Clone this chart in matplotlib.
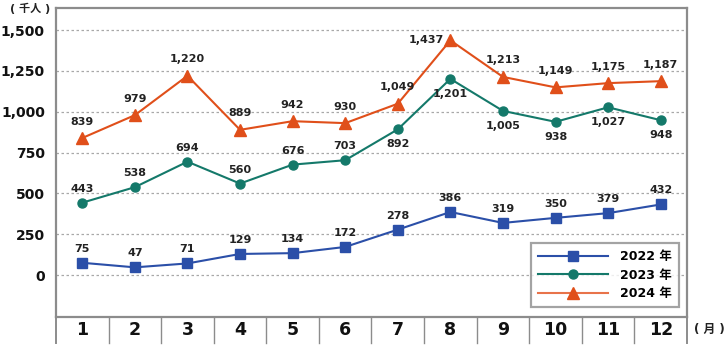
import matplotlib
matplotlib.use("Agg")
import matplotlib.pyplot as plt
from matplotlib.lines import Line2D
import matplotlib.transforms as mtransforms

plt.rcParams['font.family'] = ['DejaVu Sans', 'Noto Sans CJK JP']

months = [1, 2, 3, 4, 5, 6, 7, 8, 9, 10, 11, 12]
v2022 = [75, 47, 71, 129, 134, 172, 278, 386, 319, 350, 379, 432]
v2023 = [443, 538, 694, 560, 676, 703, 892, 1201, 1005, 938, 1027, 948]
v2024 = [839, 979, 1220, 889, 942, 930, 1049, 1437, 1213, 1149, 1175, 1187]
series_names = ["2022 年", "2023 年", "2024 年"]
yticks = [0, 250, 500, 750, 1000, 1250, 1500]
# label placement for 2023: 'a' above, 'b' below
pos2023 = ['a', 'a', 'a', 'a', 'a', 'a', 'b', 'b', 'b', 'b', 'b', 'b']

c22 = '#2B4FA8'
c23 = '#14796A'
c24 = '#E04F1A'
grey = '#8C8C8C'

W, H = 727, 350
fig = plt.figure(figsize=(W / 100, H / 100), dpi=100)
L, R, T, B = 56, 687, 8, 317
ax = fig.add_axes([L / W, 1 - B / H, (R - L) / W, (B - T) / H])

ax.set_xlim(0.5, 12.5)
ax.set_ylim(-257, 1635)

for y in yticks:
    ax.axhline(y, color='#A8A8A8', lw=0.9, ls=(0, (2, 2)), zorder=1)

ax.plot(months, v2022, color=c22, lw=1.5, marker='s', ms=7.5, zorder=3)
ax.plot(months, v2023, color=c23, lw=1.5, marker='o', ms=6.5, zorder=3)
ax.plot(months, v2024, color=c24, lw=1.5, marker='^', ms=9, zorder=3)

lblkw = dict(ha='center', fontsize=8, fontweight='bold', color='#222222', zorder=4)
for x, v in zip(months, v2022):
    ax.text(x, v + 55, f"{v:,}", va='bottom', **lblkw)
for x, v, p in zip(months, v2023, pos2023):
    if p == 'a':
        ax.text(x, v + 55, f"{v:,}", va='bottom', **lblkw)
    else:
        ax.text(x, v - 60, f"{v:,}", va='top', **lblkw)
for x, v in zip(months, v2024):
    if x == 8:
        ax.text(x - 0.45, v + 5, f"{v:,}", va='center', **lblkw)
    else:
        ax.text(x, v + 70, f"{v:,}", va='bottom', **lblkw)

ax.set_yticks(yticks)
ax.set_yticklabels([f"{y:,}" for y in yticks], fontsize=10, fontweight='bold', color='#111111')
ax.tick_params(axis='y', length=0, pad=8)
ax.set_xticks([])

for s in ax.spines.values():
    s.set_color(grey)
    s.set_linewidth(1.6)

# category table under the axis
trans = mtransforms.blended_transform_factory(ax.transData, ax.transAxes)
tb = -(343 - B) / (B - T)
for i in range(13):
    xe = 0.5 + i
    ax.add_line(Line2D([xe, xe], [0, tb], transform=trans, color=grey, lw=1.4 if i in (0, 12) else 1.0, clip_on=False))
for m in months:
    ax.text(m, -(330 - B) / (B - T), str(m), transform=trans, ha='center', va='center',
            fontsize=12.5, fontweight='bold', color='#111111')

fig.text(709 / W, 1 - 329 / H, "( 月 )", ha='center', va='center', fontsize=8.5, fontweight='bold', color='#222222')
fig.text(30 / W, 1 - 8 / H, "( 千人 )", ha='center', va='center', fontsize=8, fontweight='bold', color='#222222')

handles = [
    Line2D([], [], color=c22, lw=1.5, marker='s', ms=7.5),
    Line2D([], [], color=c23, lw=1.5, marker='o', ms=6.5),
    Line2D([], [], color='#E8734A', lw=1.5, marker='^', ms=9, mfc=c24, mec=c24),
]
leg = ax.legend(handles, series_names, loc='lower right', bbox_to_anchor=((679 - L) / (R - L), (B - 307) / (B - T)),
                frameon=True, fancybox=False, edgecolor=grey, handlelength=5.6, borderaxespad=0,
                prop={'weight': 'bold', 'size': 9}, borderpad=0.55, labelspacing=0.45, handletextpad=1.0)
leg.get_frame().set_linewidth(1.6)

fig.savefig("out.png", dpi=100)
